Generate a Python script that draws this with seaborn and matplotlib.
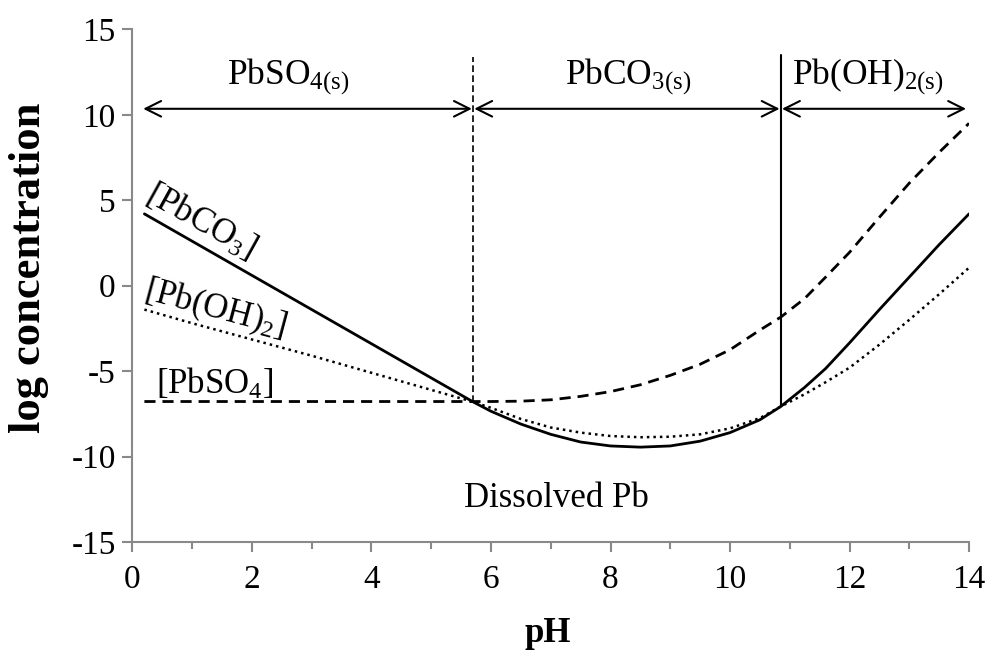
import matplotlib
matplotlib.use("Agg")
import matplotlib.pyplot as plt
import seaborn as sns
import pandas as pd

# ---- data ----
ph = [0.2, 1, 2, 3, 4, 5, 5.7, 6.0, 6.5, 7.0, 7.5, 8.0, 8.5, 9.0, 9.5, 10.0,
      10.5, 10.85, 11.25, 11.6, 12.0, 12.5, 13.0, 13.5, 14.0]
pbco3 = [4.2, 2.6, 0.6, -1.4, -3.4, -5.4, -6.8, -7.35, -8.1, -8.7, -9.15, -9.38,
         -9.45, -9.38, -9.1, -8.6, -7.85, -7.07, -5.95, -4.85, -3.35, -1.4, 0.5, 2.4, 4.2]
pboh2 = [-1.4, -2.2, -3.15, -4.1, -5.1, -6.1, -6.8, -7.15, -7.8, -8.3, -8.6, -8.8,
         -8.87, -8.84, -8.7, -8.35, -7.75, -7.07, -6.35, -5.65, -4.8, -3.45, -2.0, -0.5, 1.05]
pbso4 = [-6.78, -6.78, -6.78, -6.78, -6.78, -6.78, -6.78, -6.78, -6.76, -6.68, -6.48, -6.2,
         -5.8, -5.25, -4.6, -3.75, -2.6, -1.84, -0.75, 0.5, 1.95, 4.0, 6.0, 7.8, 9.5]

boundaries = [5.7, 10.85]
boundary_bottom = [-6.78, -7.07]
region_labels = [r"PbSO$_{\mathrm{4(s)}}$", r"PbCO$_{\mathrm{3(s)}}$", r"Pb(OH)$_{\mathrm{2(s)}}$"]
region_label_x = [2.6, 8.3, 12.3]
region_edges = [0.18, 5.7, 10.85, 13.95]

xticks = [0, 2, 4, 6, 8, 10, 12, 14]
yticks = [-15, -10, -5, 0, 5, 10, 15]

df = pd.DataFrame({"pH": ph, "PbCO3": pbco3, "PbOH2": pboh2, "PbSO4": pbso4})

sns.set_style("white")
plt.rcParams["font.family"] = ["Liberation Serif", "DejaVu Serif"]
plt.rcParams["mathtext.fontset"] = "custom"
plt.rcParams["mathtext.rm"] = "Liberation Serif"
plt.rcParams["mathtext.it"] = "Liberation Serif:italic"
plt.rcParams["mathtext.bf"] = "Liberation Serif:bold"
plt.rcParams["text.color"] = "black"
plt.rcParams["axes.labelcolor"] = "black"

fig = plt.figure(figsize=(9.87, 6.56), dpi=100)
ax = fig.add_axes([0.1342, 0.1738, 0.9818 - 0.1342, 0.9553 - 0.1738])

sns.lineplot(data=df, x="pH", y="PbCO3", ax=ax, color="black", lw=2.0, sort=False)
sns.lineplot(data=df, x="pH", y="PbOH2", ax=ax, color="black", lw=1.8, sort=False,
             linestyle=(0, (1, 1.6)))
sns.lineplot(data=df, x="pH", y="PbSO4", ax=ax, color="black", lw=2.0, sort=False,
             linestyle=(0, (4, 2.5)))

# boundary lines
ax.plot([boundaries[0], boundaries[0]], [boundary_bottom[0], 13.4], color="black",
        lw=1.2, linestyle=(0, (4, 2)))
ax.plot([boundaries[1], boundaries[1]], [boundary_bottom[1], 13.5], color="black", lw=1.5)

# region arrows and labels
arrow_y = 10.35
for i in range(3):
    x0 = region_edges[i] + (0.02 if i > 0 else 0)
    x1 = region_edges[i + 1] - (0.02 if i < 2 else 0)
    ax.annotate("", xy=(x1, arrow_y), xytext=(x0, arrow_y),
                arrowprops=dict(arrowstyle="<->", lw=1.5, color="black",
                                mutation_scale=28, shrinkA=0, shrinkB=0))
    ax.text(region_label_x[i], 12.2, region_labels[i], ha="center", va="center", fontsize=25.5)

# curve labels
ax.text(1.15, 3.75, r"[PbCO$_{\mathrm{3}}$]", rotation=-29, ha="center", va="center",
        rotation_mode="anchor", fontsize=25)
ax.text(1.38, -1.35, r"[Pb(OH)$_{\mathrm{2}}$]", rotation=-15, ha="center", va="center",
        rotation_mode="anchor", fontsize=25)
ax.text(1.38, -5.75, r"[PbSO$_{\mathrm{4}}$]", ha="center", va="center", fontsize=25)
ax.text(7.1, -12.45, "Dissolved Pb", ha="center", va="center", fontsize=25)

ax.set_xlim(0, 14)
ax.set_ylim(-15, 15)
ax.set_xticks(xticks)
ax.set_xticks(range(1, 14, 2), minor=True)
ax.set_yticks(yticks)
ax.set_xticklabels([str(v) for v in xticks])
ax.set_yticklabels([str(v) for v in yticks])
ax.tick_params(axis="both", which="both", direction="out", color="#898989",
               labelcolor="black", labelsize=24, width=1.5)
ax.tick_params(axis="y", which="major", length=7, pad=5, left=True)
ax.tick_params(axis="x", which="major", length=7, pad=9, bottom=True)
ax.tick_params(axis="x", which="minor", length=5, bottom=True)

for s in ["top", "right"]:
    ax.spines[s].set_visible(False)
for s in ["left", "bottom"]:
    ax.spines[s].set_color("#898989")
    ax.spines[s].set_linewidth(1.5)

ax.set_xlabel("pH", fontsize=25, fontweight="bold")
ax.set_ylabel("log concentration", fontsize=32, fontweight="bold")
ax.xaxis.set_label_coords(0.497, -0.147)
ax.yaxis.set_label_coords(-0.1, 0.535)

fig.savefig("out.png", dpi=100)
